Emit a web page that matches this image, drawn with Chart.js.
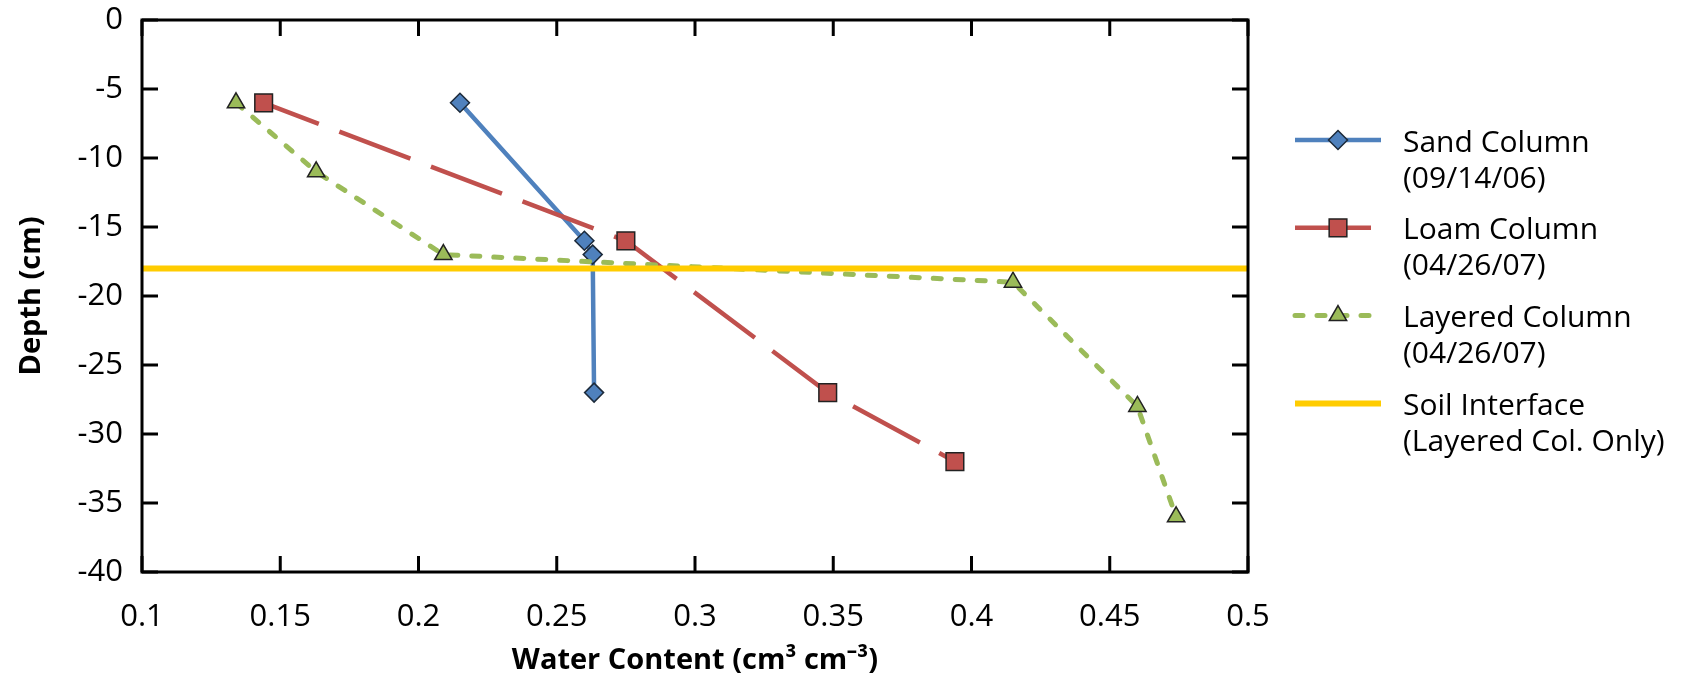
<!DOCTYPE html>
<html>
<head>
<meta charset="utf-8">
<script src="https://cdn.jsdelivr.net/npm/chart.js@4.4.1/dist/chart.umd.min.js"></script>
<style>
html,body{margin:0;padding:0;background:#fff;}
canvas{display:block;}
</style>
</head>
<body>
<canvas id="c" width="1699" height="684"></canvas>
<script>
// ---- data ----
const sandX = [0.215, 0.260, 0.263, 0.2635];
const sandY = [-6, -16, -17, -27];
const loamX = [0.144, 0.275, 0.348, 0.394];
const loamY = [-6, -16, -27, -32];
const layeredX = [0.134, 0.163, 0.209, 0.415, 0.460, 0.474];
const layeredY = [-6, -11, -17, -19, -28, -36];
const interfaceX = [0.1, 0.5];
const interfaceY = [-18, -18];

const xTickValues = [0.1, 0.15, 0.2, 0.25, 0.3, 0.35, 0.4, 0.45, 0.5];
const xTickLabels = ['0.1', '0.15', '0.2', '0.25', '0.3', '0.35', '0.4', '0.45', '0.5'];
const yTickValues = [-40, -35, -30, -25, -20, -15, -10, -5, 0];
const yTickLabels = ['-40', '-35', '-30', '-25', '-20', '-15', '-10', '-5', '0'];

const seriesNames = [
  ['Sand Column', '(09/14/06)'],
  ['Loam Column', '(04/26/07)'],
  ['Layered Column', '(04/26/07)'],
  ['Soil Interface', '(Layered Col. Only)']
];
const xTitle = 'Water Content (cm\u00B3 cm\u207B\u00B3)';
const yTitle = 'Depth (cm)';

const toPoints = (xs, ys) => xs.map((v, i) => ({ x: v, y: ys[i] }));

Chart.defaults.font.family = "'Open Sans', sans-serif";
Chart.defaults.color = '#000';

const framePlugin = {
  id: 'frame',
  afterDatasetsDraw(chart) {
    const { ctx, chartArea: { left, right, top, bottom }, scales: { x, y } } = chart;
    const tl = 16;
    ctx.save();
    ctx.strokeStyle = '#000';
    ctx.lineWidth = 3;
    ctx.beginPath();
    x.ticks.forEach(t => {
      const px = x.getPixelForValue(t.value);
      ctx.moveTo(px, bottom); ctx.lineTo(px, bottom - tl);
      ctx.moveTo(px, top); ctx.lineTo(px, top + tl);
    });
    y.ticks.forEach(t => {
      const py = y.getPixelForValue(t.value);
      ctx.moveTo(left, py); ctx.lineTo(left + tl, py);
      ctx.moveTo(right, py); ctx.lineTo(right - tl, py);
    });
    ctx.stroke();
    ctx.strokeRect(left, top, right - left, bottom - top);
    ctx.restore();
  },
  afterDraw(chart) {
    const { ctx, chartArea } = chart;
    const x0 = chartArea.right + 47, x1 = chartArea.right + 133;
    const mx = chartArea.right + 90, tx = chartArea.right + 155;
    chart.data.datasets.forEach((ds, i) => {
      const ly = chartArea.top + 120 + i * 87.8;
      ctx.save();
      ctx.strokeStyle = ds.borderColor;
      ctx.lineWidth = ds.borderWidth;
      ctx.setLineDash(ds.borderDash || []);
      ctx.lineDashOffset = 0;
      ctx.lineCap = ds.borderCapStyle || 'butt';
      ctx.beginPath();
      ctx.moveTo(x0, ly); ctx.lineTo(x1, ly);
      ctx.stroke();
      ctx.setLineDash([]);
      ctx.lineCap = 'butt';
      if (ds.pointRadius > 0) {
        ctx.fillStyle = ds.pointBackgroundColor;
        ctx.strokeStyle = ds.pointBorderColor;
        ctx.lineWidth = ds.pointBorderWidth;
        Chart.helpers.drawPoint(ctx, {
          pointStyle: ds.pointStyle, radius: ds.pointRadius, rotation: 0, borderWidth: ds.pointBorderWidth
        }, mx, ly);
      }
      ctx.fillStyle = '#000';
      ctx.font = "30px 'Open Sans'";
      ctx.textAlign = 'left';
      ctx.textBaseline = 'alphabetic';
      seriesNames[i].forEach((line, j) => ctx.fillText(line, tx, ly + 11.5 + j * 36));
      ctx.restore();
    });
  }
};

new Chart(document.getElementById('c'), {
  type: 'scatter',
  data: {
    datasets: [
      {
        label: seriesNames[0].join(' '),
        data: toPoints(sandX, sandY),
        showLine: true,
        borderColor: '#4F81BD',
        borderWidth: 4.5,
        tension: 0,
        pointStyle: 'rectRot',
        pointRadius: 9.5,
        pointHoverRadius: 9.5,
        pointBackgroundColor: '#4F81BD',
        pointBorderColor: '#1c2a3a',
        pointBorderWidth: 1.5,
        order: 4
      },
      {
        label: seriesNames[1].join(' '),
        data: toPoints(loamX, loamY),
        showLine: true,
        borderColor: '#C0504D',
        borderWidth: 4.5,
        borderDash: [76, 22],
        borderDashOffset: 17,
        tension: 0,
        pointStyle: 'rect',
        pointRadius: 12.5,
        pointHoverRadius: 12.5,
        pointBackgroundColor: '#C0504D',
        pointBorderColor: '#222',
        pointBorderWidth: 1.5,
        order: 3
      },
      {
        label: seriesNames[2].join(' '),
        data: toPoints(layeredX, layeredY),
        showLine: true,
        borderColor: '#9BBB59',
        borderWidth: 5,
        borderDash: [8, 14],
        borderCapStyle: 'round',
        tension: 0,
        pointStyle: 'triangle',
        pointRadius: 10,
        pointHoverRadius: 10,
        pointBackgroundColor: '#9BBB59',
        pointBorderColor: '#222',
        pointBorderWidth: 1.5,
        order: 2
      },
      {
        label: seriesNames[3].join(' '),
        data: toPoints(interfaceX, interfaceY),
        showLine: true,
        borderColor: '#FFCC00',
        borderWidth: 6,
        tension: 0,
        pointRadius: 0,
        pointHoverRadius: 0,
        order: 1
      }
    ]
  },
  options: {
    responsive: false,
    animation: false,
    devicePixelRatio: 1,
    events: [],
    layout: { padding: { top: 20, right: 451, bottom: 0, left: 0 } },
    plugins: { legend: { display: false }, tooltip: { enabled: false } },
    scales: {
      x: {
        type: 'linear',
        min: 0.1, max: 0.5,
        afterBuildTicks: s => { s.ticks = xTickValues.map(v => ({ value: v })); },
        afterFit: s => { s.height = 112; },
        grid: { display: false, drawTicks: false },
        border: { display: false },
        ticks: {
          autoSkip: false, maxRotation: 0, padding: 27,
          font: { size: 31 }, color: '#000',
          callback: v => xTickLabels[xTickValues.indexOf(v)]
        },
        title: {
          display: true, text: xTitle, color: '#000',
          font: { size: 29, weight: 'bold' },
          padding: { top: 0, bottom: 6 }
        }
      },
      y: {
        type: 'linear',
        min: -40, max: 0,
        afterBuildTicks: s => { s.ticks = yTickValues.map(v => ({ value: v })); },
        afterFit: s => { s.width = 142; s.paddingTop = 0; s.paddingBottom = 0; },
        grid: { display: false, drawTicks: false },
        border: { display: false },
        ticks: {
          autoSkip: false, padding: 19,
          font: { size: 31 }, color: '#000',
          callback: v => yTickLabels[yTickValues.indexOf(v)]
        },
        title: {
          display: true, text: yTitle, color: '#000',
          font: { size: 29, weight: 'bold' },
          padding: { top: 14, bottom: 0 }
        }
      }
    }
  },
  plugins: [framePlugin]
});
</script>
</body>
</html>
